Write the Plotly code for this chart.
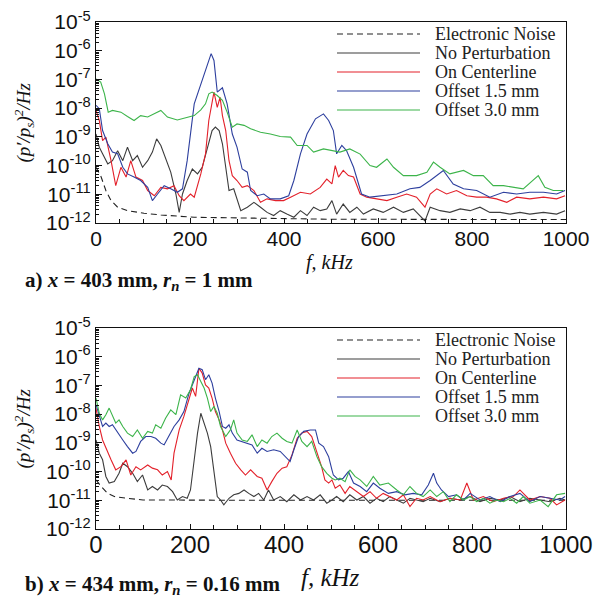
import numpy as np
import plotly.graph_objects as go

# ---------------- Panel a data (frequency kHz, log10 of PSD) ----------------
a_noise_f = [0, 11, 21, 32, 46, 67, 102, 138, 209, 315, 421, 500, 600, 700, 800, 900, 1000]
a_noise_lg = [-10.06, -10.4, -10.87, -11.22, -11.45, -11.57, -11.66, -11.72, -11.8, -11.83, -11.86,
              -11.87, -11.87, -11.88, -11.88, -11.88, -11.88]

a_none_f = [0, 7, 14, 25, 35, 46, 57, 67, 78, 88, 99, 110, 120, 129, 138, 148, 159, 170, 177, 184,
            194, 205, 216, 226, 237, 247, 254, 262, 269, 276, 283, 293, 308, 322, 336, 350, 364, 378,
            392, 406, 421, 435, 449, 463, 477, 491, 502, 512, 526, 540, 555, 569, 590, 611, 633, 654,
            675, 700, 711, 732, 753, 775, 796, 817, 838, 860, 881, 902, 923, 952, 980, 998]
a_none_lg = [-8.9, -9.36, -9.59, -9.94, -9.83, -9.48, -9.83, -9.36, -9.83, -9.65, -10.06, -9.83, -9.53,
             -9.07, -9.3, -9.71, -10.23, -10.99, -11.63, -10.99, -10.52, -10.12, -10.29, -10.06, -9.36,
             -8.78, -8.66, -8.78, -9.24, -10.06, -10.87, -10.81, -11.57, -11.45, -11.28, -11.45, -11.63,
             -11.74, -11.57, -11.69, -11.8, -11.57, -11.74, -11.45, -11.57, -11.51, -11.22, -11.69,
             -11.34, -11.63, -11.45, -11.69, -11.51, -11.63, -11.45, -11.63, -11.51, -11.93, -11.45,
             -11.57, -11.63, -11.51, -11.57, -11.45, -11.63, -11.63, -11.69, -11.63, -11.69, -11.63,
             -11.69, -11.57]

a_center_f = [0, 7, 14, 21, 32, 42, 53, 64, 74, 85, 99, 110, 124, 138, 152, 166, 177, 187, 201, 209,
              223, 233, 240, 247, 251, 258, 264, 269, 276, 283, 290, 300, 311, 322, 336, 350, 364, 382,
              399, 414, 435, 456, 477, 491, 502, 509, 516, 526, 537, 548, 562, 576, 597, 619, 640, 661,
              682, 700, 711, 725, 746, 767, 789, 810, 831, 852, 874, 895, 923, 952, 980, 998]
a_center_lg = [-8.08, -8.43, -9.13, -9.01, -9.83, -10.7, -10.06, -10.4, -9.83, -10.4, -10.52, -10.87,
               -11.05, -10.76, -10.81, -10.7, -11.05, -11.22, -10.99, -11.1, -10.29, -9.59, -8.43, -7.73,
               -7.44, -7.97, -7.62, -8.26, -8.78, -9.83, -10.35, -10.52, -10.76, -10.7, -10.87, -11.28,
               -11.16, -11.22, -11.22, -11.1, -10.93, -10.99, -10.76, -10.47, -10.64, -10.0, -10.4,
               -10.17, -10.35, -10.4, -10.99, -11.1, -11.16, -11.22, -11.1, -10.99, -11.1, -11.45,
               -10.99, -10.81, -10.99, -10.87, -11.05, -11.1, -11.1, -11.16, -11.28, -11.1, -11.16,
               -11.1, -11.16, -11.05]

a_off15_f = [0, 7, 14, 25, 35, 46, 57, 67, 81, 95, 110, 120, 131, 145, 159, 173, 184, 194, 209, 223,
             237, 245, 251, 258, 269, 279, 290, 300, 311, 322, 329, 343, 357, 371, 392, 410, 421, 435,
             449, 467, 484, 495, 505, 512, 523, 533, 548, 565, 583, 611, 640, 668, 689, 711, 739, 760,
             782, 810, 838, 867, 895, 923, 952, 980, 998]
a_off15_lg = [-7.9, -8.02, -8.78, -9.24, -9.53, -9.59, -10.06, -10.29, -10.4, -10.52, -10.76, -11.22,
              -10.99, -10.7, -10.81, -10.93, -10.81, -9.83, -7.85, -7.15, -6.45, -6.1, -6.34, -7.44,
              -7.29, -7.85, -8.9, -9.36, -10.12, -10.23, -10.87, -11.05, -10.99, -11.16, -11.16, -11.05,
              -10.52, -9.59, -8.9, -8.37, -8.2, -8.43, -8.78, -9.59, -9.3, -9.48, -10.06, -10.99, -11.1,
              -11.05, -10.99, -10.81, -10.76, -10.52, -10.17, -10.64, -10.81, -10.87, -11.1, -10.93,
              -10.99, -10.93, -10.93, -10.99, -10.87]

a_off30_f = [0, 10, 18, 26, 35, 53, 67, 81, 95, 110, 138, 152, 173, 194, 209, 223, 233, 240, 247, 258,
             269, 279, 290, 300, 315, 329, 350, 371, 392, 414, 428, 449, 463, 484, 502, 519, 540, 562,
             583, 597, 619, 633, 654, 682, 704, 718, 732, 753, 782, 803, 824, 845, 867, 888, 909, 941,
             955, 973, 994]
a_off30_lg = [-6.98, -7.09, -7.5, -8.14, -8.08, -8.14, -8.29, -8.43, -8.26, -8.31, -8.08, -8.31, -8.41,
              -8.31, -8.26, -8.06, -7.85, -7.5, -7.44, -7.56, -7.73, -8.14, -8.66, -8.55, -8.6, -8.72,
              -8.84, -8.9, -8.99, -9.01, -9.3, -9.3, -9.53, -9.42, -9.48, -9.53, -9.42, -9.6, -10.0,
              -10.06, -9.77, -10.06, -10.35, -10.35, -10.23, -9.88, -10.06, -10.29, -10.17, -10.35,
              -10.35, -10.7, -10.7, -10.76, -10.81, -10.35, -10.76, -10.87, -10.87]

# ---------------- Panel b data ----------------
b_noise_f = [0, 11, 25, 39, 67, 100, 150, 200, 300, 400, 500, 600, 700, 800, 900, 1000]
b_noise_lg = [-10.29, -10.52, -10.76, -10.87, -10.93, -10.99, -10.99, -11.0, -11.0, -11.0, -11.0,
              -11.0, -11.0, -11.0, -11.0, -11.0]

b_none_f = [0, 7, 14, 21, 28, 39, 49, 57, 67, 78, 88, 99, 110, 120, 131, 141, 152, 163, 173, 184, 194,
            201, 209, 216, 223, 230, 237, 244, 251, 258, 265, 272, 283, 293, 304, 315, 325, 336, 346,
            357, 367, 378, 392, 406, 421, 435, 449, 463, 477, 491, 502, 512, 526, 540, 555, 569, 583,
            597, 611, 625, 640, 654, 668, 682, 696, 711, 732, 753, 775, 796, 817, 838, 860, 881, 902,
            923, 945, 966, 987, 998]
b_none_lg = [-8.9, -9.36, -9.59, -10.17, -10.4, -10.35, -10.06, -9.71, -9.83, -10.06, -10.35, -10.12,
             -10.64, -10.52, -10.64, -10.47, -10.52, -10.7, -10.99, -10.87, -10.93, -10.64, -9.59, -8.66,
             -7.97, -8.31, -8.66, -9.13, -10.06, -10.87, -10.99, -11.16, -10.93, -10.81, -10.76, -10.64,
             -10.76, -10.87, -10.76, -10.99, -10.64, -10.99, -10.87, -11.05, -10.81, -10.99, -10.87,
             -10.99, -10.81, -11.1, -10.99, -10.87, -11.05, -10.81, -10.99, -10.87, -11.1, -10.93,
             -11.05, -10.87, -10.99, -11.1, -10.93, -10.99, -11.05, -10.93, -11.05, -10.93, -10.99,
             -10.87, -11.05, -10.93, -10.99, -10.87, -11.05, -10.93, -10.99, -11.05, -10.93, -10.99]

b_center_f = [0, 7, 14, 21, 32, 42, 53, 64, 74, 85, 95, 110, 120, 131, 141, 152, 160, 166, 177, 187,
              198, 205, 212, 219, 226, 233, 240, 247, 254, 262, 269, 276, 286, 297, 308, 318, 329, 343,
              353, 364, 374, 385, 396, 406, 417, 428, 438, 449, 459, 470, 480, 487, 495, 502, 509, 519,
              530, 540, 555, 569, 583, 597, 611, 625, 640, 654, 668, 682, 696, 711, 732, 753, 775, 789,
              803, 824, 845, 867, 888, 902, 923, 945, 966, 980, 998]
b_center_lg = [-7.79, -8.43, -8.9, -9.19, -9.59, -9.94, -9.83, -9.59, -10.12, -9.83, -9.94, -9.77,
               -9.88, -9.94, -10.12, -10.0, -10.29, -9.36, -8.55, -8.08, -7.5, -7.09, -7.38, -6.4, -6.57,
               -6.98, -7.09, -7.44, -7.91, -8.2, -8.55, -9.01, -9.36, -9.71, -9.94, -10.12, -9.94,
               -10.17, -10.23, -10.64, -10.35, -10.06, -9.88, -9.83, -9.42, -8.84, -8.66, -8.6, -8.78,
               -9.3, -9.83, -10.29, -10.4, -10.29, -10.58, -10.47, -10.76, -10.52, -10.7, -10.87,
               -10.7, -10.93, -10.76, -10.87, -10.99, -10.81, -11.22, -10.93, -10.99, -10.87, -11.05,
               -10.93, -10.99, -10.4, -10.99, -10.87, -11.05, -10.93, -10.87, -10.64, -10.99, -10.87,
               -10.93, -11.16, -10.99]

b_off15_f = [0, 7, 14, 21, 28, 35, 46, 57, 67, 78, 85, 95, 106, 117, 127, 138, 145, 155, 166, 177, 187,
             198, 209, 219, 226, 233, 240, 247, 254, 262, 269, 276, 283, 290, 300, 311, 322, 332, 343,
             353, 364, 378, 392, 406, 413, 421, 431, 442, 456, 467, 474, 484, 495, 502, 505, 516, 526,
             537, 548, 562, 576, 590, 604, 622, 640, 657, 675, 693, 707, 718, 725, 735, 750, 767, 782,
             796, 817, 838, 860, 881, 902, 923, 945, 966, 987, 998]
b_off15_lg = [-7.67, -8.08, -8.43, -8.31, -8.43, -8.37, -8.66, -8.9, -9.13, -9.36, -9.3, -8.95, -8.78,
              -8.78, -8.84, -9.01, -9.07, -8.78, -8.43, -8.2, -7.91, -7.27, -6.8, -6.4, -6.45, -6.8,
              -6.63, -6.92, -7.44, -7.91, -8.43, -8.49, -8.37, -8.66, -8.9, -8.95, -9.01, -9.07, -9.36,
              -9.19, -9.3, -9.24, -9.3, -9.53, -9.65, -9.24, -8.78, -8.6, -8.55, -8.55, -9.01, -9.13,
              -9.48, -9.94, -10.12, -10.29, -10.23, -10.0, -10.4, -10.52, -10.7, -10.4, -10.58, -10.76,
              -10.7, -10.81, -10.76, -10.81, -10.47, -10.06, -10.4, -10.64, -10.87, -10.81, -10.99,
              -10.76, -10.99, -10.87, -11.05, -10.87, -10.76, -11.05, -10.87, -10.93, -10.99, -10.87]

b_off30_f = [0, 7, 14, 21, 28, 35, 42, 49, 57, 67, 78, 88, 99, 110, 120, 127, 138, 148, 159, 170, 180,
             191, 201, 209, 216, 223, 230, 237, 244, 251, 258, 265, 276, 286, 293, 300, 311, 322, 332,
             343, 353, 364, 374, 385, 396, 406, 417, 428, 438, 449, 459, 470, 480, 491, 502, 509, 519,
             530, 540, 551, 562, 576, 590, 604, 622, 640, 654, 668, 682, 696, 711, 725, 739, 753, 767,
             782, 796, 810, 824, 838, 852, 867, 881, 895, 909, 923, 945, 962, 980, 998]
b_off30_lg = [-7.44, -7.97, -8.2, -8.02, -7.79, -8.08, -8.31, -8.2, -8.43, -8.66, -8.78, -8.55, -8.84,
              -8.6, -8.66, -8.37, -8.49, -8.14, -7.85, -8.02, -7.33, -7.44, -7.15, -6.69, -6.63, -6.86,
              -7.09, -7.44, -7.91, -7.73, -7.97, -8.43, -8.78, -8.55, -8.2, -8.66, -8.9, -8.95, -8.72,
              -9.13, -8.9, -9.01, -8.78, -8.66, -8.84, -8.95, -9.01, -8.55, -8.95, -9.13, -8.95, -9.48,
              -9.83, -10.06, -10.23, -10.29, -10.23, -10.35, -9.94, -10.17, -10.29, -10.52, -10.17,
              -10.47, -10.4, -10.64, -10.81, -10.52, -10.76, -10.87, -10.64, -10.87, -10.7, -11.05,
              -10.81, -10.99, -10.87, -11.05, -10.93, -11.1, -10.99, -11.05, -10.93, -11.1, -10.87,
              -11.1, -10.99, -11.22, -10.81, -10.76]

series_names = ["Electronic Noise", "No Perturbation", "On Centerline", "Offset 1.5 mm", "Offset 3.0 mm"]
series_colors = ["#222222", "#3c3c3c", "#e3202a", "#2d3f9e", "#3cb44a"]
series_dash = ["dash", "solid", "solid", "solid", "solid"]

x_ticks = [0, 200, 400, 600, 800, 1000]
y_exps = [-12, -11, -10, -9, -8, -7, -6, -5]

W, H = 595, 602
def px(x):
    return x / W
def py(y):
    return 1 - y / H

panels = [
    dict(fs=[a_noise_f, a_none_f, a_center_f, a_off15_f, a_off30_f],
         ls=[a_noise_lg, a_none_lg, a_center_lg, a_off15_lg, a_off30_lg],
         top=22, bot=223, xa="x", ya="y"),
    dict(fs=[b_noise_f, b_none_f, b_center_f, b_off15_f, b_off30_f],
         ls=[b_noise_lg, b_none_lg, b_center_lg, b_off15_lg, b_off30_lg],
         top=328, bot=529, xa="x2", ya="y2"),
]

fig = go.Figure()
for p in panels:
    for i in range(5):
        fig.add_trace(go.Scatter(
            x=p["fs"][i], y=np.power(10.0, np.array(p["ls"][i])),
            mode="lines", name=series_names[i], showlegend=False,
            line=dict(color=series_colors[i], width=1.1, dash="6px,4px" if series_dash[i] == "dash" else "solid"),
            xaxis=p["xa"], yaxis=p["ya"]))

minor_vals = [m * 10.0 ** e for e in range(-12, -5) for m in range(2, 10)]
tick_font = dict(family="Liberation Sans, Arial, sans-serif", size=21, color="#111")

def xaxis(domain, anchor, size, standoff):
    return dict(domain=domain, anchor=anchor, range=[0, 1000], tickvals=x_ticks, automargin=False,
                ticktext=[str(v) for v in x_ticks], ticks="inside", ticklen=5, tickcolor="#111",
                ticklabelstandoff=standoff,
                minor=dict(ticks="inside", ticklen=4, dtick=50, tick0=0, tickcolor="#111"),
                showline=True, linecolor="#111", linewidth=1.2, mirror=True, showgrid=False,
                zeroline=False, tickfont=dict(family="Liberation Sans, Arial, sans-serif", size=size, color="#111"))

def yaxis(domain, anchor):
    return dict(domain=domain, anchor=anchor, type="log", range=[-12, -5], automargin=False,
                tickvals=[10.0 ** e for e in y_exps],
                ticktext=["10<sup>%d</sup>" % e for e in y_exps],
                ticks="inside", ticklen=6, tickcolor="#111",
                minor=dict(ticks="inside", ticklen=3, tickmode="array", tickvals=minor_vals, tickcolor="#111"),
                showline=True, linecolor="#111", linewidth=1.2, mirror=True, showgrid=False,
                zeroline=False, tickfont=tick_font)

xd = [px(96), px(566)]
fig.update_layout(
    width=W, height=H, margin=dict(l=0, r=0, t=0, b=0, autoexpand=False),
    paper_bgcolor="white", plot_bgcolor="white", showlegend=False,
    xaxis=xaxis(xd, "y", 21, -3),
    yaxis=yaxis([py(223), py(22)], "x"),
    xaxis2=xaxis(xd, "y2", 24, -6),
    yaxis2=yaxis([py(529), py(328)], "x2"),
)

serif = "Liberation Serif, Times New Roman, serif"
ann = []
shapes = []
ytitle = "<i>(p\u2032/p<sub>s</sub>)<sup>2</sup>/Hz</i>"
legend_rows = [[34, 53, 72, 91, 110], [340, 359, 378, 397, 416]]
for k, p in enumerate(panels):
    ann.append(dict(x=px(24), y=py((p["top"] + p["bot"]) / 2), xref="paper", yref="paper",
                    xanchor="center", yanchor="middle",
                    text=ytitle, textangle=-90, showarrow=False,
                    font=dict(family=serif, size=19, color="#111")))
    for i, yy in enumerate(legend_rows[k]):
        shapes.append(dict(type="line", xref="paper", yref="paper", x0=px(337), x1=px(420),
                           y0=py(yy), y1=py(yy),
                           line=dict(color=series_colors[i], width=1.1,
                                     dash="6px,4px" if series_dash[i] == "dash" else "solid")))
        ann.append(dict(x=px(433), y=py(yy), xref="paper", yref="paper", xanchor="left",
                        yanchor="middle", text=series_names[i], showarrow=False,
                        font=dict(family=serif, size=18, color="#222")))

ann.append(dict(x=px(329), y=py(263), xref="paper", yref="paper", text="<i>f, kHz</i>",
                xanchor="center", yanchor="middle",
                showarrow=False, font=dict(family=serif, size=20, color="#111")))
ann.append(dict(x=px(330), y=py(577), xref="paper", yref="paper", text="<i>f, kHz</i>",
                xanchor="center", yanchor="middle",
                showarrow=False, font=dict(family=serif, size=25, color="#111")))
ann.append(dict(x=px(23), y=py(281), xref="paper", yref="paper", xanchor="left", yanchor="middle",
                text="<b>a) <i>x</i> = 403 mm, <i>r<sub>n</sub></i> = 1 mm</b>",
                showarrow=False, font=dict(family=serif, size=21, color="#111")))
ann.append(dict(x=px(23), y=py(585), xref="paper", yref="paper", xanchor="left", yanchor="middle",
                text="<b>b) <i>x</i> = 434 mm, <i>r<sub>n</sub></i> = 0.16 mm</b>",
                showarrow=False, font=dict(family=serif, size=21, color="#111")))

fig.update_layout(annotations=ann, shapes=shapes)
fig.write_html("out.html")
